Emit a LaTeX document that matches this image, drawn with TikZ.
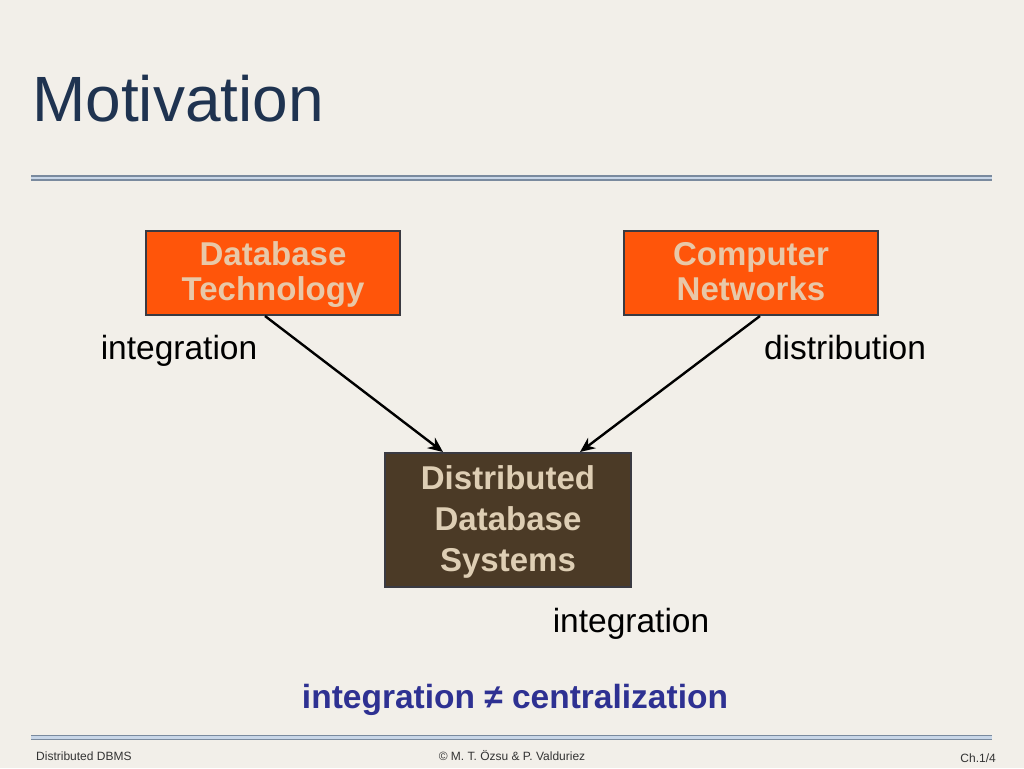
\documentclass[tikz,border=0pt]{standalone}
\usepackage{fontspec}
\setmainfont{Liberation Sans}
\usetikzlibrary{arrows.meta,calc}
\definecolor{bg}{RGB}{242,239,233}
\definecolor{titlec}{RGB}{31,51,80}
\definecolor{rulea}{RGB}{122,138,158}
\definecolor{ruleb}{RGB}{200,214,232}
\definecolor{orangec}{RGB}{255,85,10}
\definecolor{boxtext}{RGB}{232,200,168}
\definecolor{brownc}{RGB}{75,58,38}
\definecolor{ddstext}{RGB}{222,206,180}
\definecolor{borderc}{RGB}{58,58,66}
\definecolor{bluec}{RGB}{46,49,146}
\newcommand\lastdepthA{\rule[-4.5pt]{0pt}{1pt}}
\newcommand\lastdepthB{\rule[-7pt]{0pt}{1pt}}
\tikzset{
  orangebox/.style={draw=borderc, line width=2pt, fill=orangec, text=boxtext,
    minimum width=254pt, minimum height=84pt, inner sep=0pt, align=center,
    font=\fontsize{33}{35}\selectfont\bfseries},
  brownbox/.style={draw=borderc, line width=2pt, fill=brownc, text=ddstext,
    minimum width=246pt, minimum height=134pt, inner sep=0pt, align=center,
    font=\fontsize{33}{41}\selectfont\bfseries},
  lbl/.style={font=\fontsize{33.5}{35}\selectfont, text=black, inner sep=0pt, anchor=base},
  conn/.style={line width=2.4pt, -{Stealth[length=15pt,width=13pt]}},
  foot/.style={font=\fontsize{12}{14}\selectfont, text=black!80, inner sep=0pt, anchor=base},
  rulea/.style={draw=rulea, line width=2.2pt},
}
\begin{document}
\begin{tikzpicture}[x=1pt,y=-1pt]
\fill[bg] (0,0) rectangle (1024,768);
\useasboundingbox (0,0) rectangle (1024,768);
% title
\node[anchor=base west, inner sep=0pt, text=titlec, font=\fontsize{64}{70}\selectfont] (title) at (32,121) {Motivation};
% rules
\draw[ruleb, line width=6pt] (31,177.7) -- (992,177.7);
\draw[rulea] (31,175.7) -- (992,175.7);
\draw[rulea] (31,179.7) -- (992,179.7);
\draw[ruleb, line width=5pt] (31,737.5) -- (992,737.5);
\draw[rulea, line width=1.8pt] (31,735.5) -- (992,735.5);
\draw[rulea, line width=1.8pt] (31,739.5) -- (992,739.5);
% boxes
\node[orangebox] (dbt) at (273,273) {Database\strut\\\smash{Technology}\lastdepthA};
\node[orangebox] (cn) at (751,273) {Computer\strut\\\smash{Networks}\lastdepthA};
\node[brownbox] (dds) at (508,520) {Distributed\strut\\Database\strut\\\smash{Systems}\lastdepthB};
% connectors
\draw[conn] ([xshift=-8pt]dbt.south) -- ([xshift=-65pt]dds.north);
\draw[conn] ([xshift=9pt]cn.south) -- ([xshift=72pt]dds.north);
% labels
\node[lbl] (l1) at (179,359) {integration};
\node[lbl] (l2) at (845,359) {distribution};
\node[lbl] (l3) at (631,632) {integration};
\node[lbl, font=\fontsize{33.5}{35}\selectfont\bfseries, text=bluec] (l4) at (515,708) {integration ≠ centralization};
% footer
\node[foot, anchor=base west] (f1) at (36,760) {Distributed DBMS};
\node[foot] (f2) at (512,760) {© M. T. Özsu \& P. Valduriez};
\node[foot, anchor=base east] (f3) at (996,762) {Ch.1/4};
\end{tikzpicture}
\end{document}
